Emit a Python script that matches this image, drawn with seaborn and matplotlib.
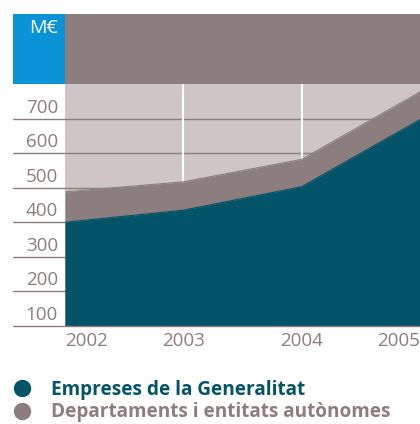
import matplotlib
matplotlib.use('Agg')
import matplotlib.pyplot as plt
import matplotlib.transforms as mtransforms
from matplotlib.lines import Line2D
from matplotlib.patches import Rectangle
import seaborn as sns
import pandas as pd
import numpy as np

# values (M€)
years = [2002, 2003, 2004, 2005]
empreses = [400, 435, 503, 697]
departaments = [88, 82, 79, 80]
y_ticks = [100, 200, 300, 400, 500, 600, 700]
series_names = ['Empreses de la Generalitat', 'Departaments i entitats autònomes']
unit = 'M€'

TEAL = '#045469'
MAUVE = '#8c7d7f'
LIGHT = '#cdc5c6'
BLUE = '#0a93d6'

sns.set_theme(style='white')
plt.rcParams['font.family'] = ['Open Sans', 'DejaVu Sans']

W, H = 420, 424
fig = plt.figure(figsize=(W / 100, H / 100), dpi=100)
ax = fig.add_axes([65 / W, (H - 326) / H, 355 / W, (326 - 84) / H])

df = pd.DataFrame({'year': years, 'empreses': empreses,
                   'total': np.add(empreses, departaments)})

ax.set_facecolor(LIGHT)
ax.set_xlim(years[0], years[-1])
ax.set_ylim(100, 800)

# grid lines, running out into the label column on the left
for v in y_ticks:
    ax.axhline(v, xmin=-52 / 355, xmax=1, color=MAUVE, lw=1, clip_on=False,
               zorder=1 if v > 100 else 5)
for yr in years[1:-1]:
    ax.axvline(yr, color='white', lw=1.5, zorder=1)

# stacked areas
ax.fill_between(df['year'], 100, df['total'], color=MAUVE, lw=0, zorder=2)
ax.fill_between(df['year'], 100, df['empreses'], color=TEAL, lw=0, zorder=3)
sns.lineplot(data=df, x='year', y='total', color=MAUVE, lw=0.8, ax=ax, zorder=2)
sns.lineplot(data=df, x='year', y='empreses', color=TEAL, lw=0.8, ax=ax, zorder=3)

for s in ax.spines.values():
    s.set_visible(False)
ax.set_xlabel('')
ax.set_ylabel('')
ax.set_yticks([])

# y labels sit just above their line
trans = mtransforms.blended_transform_factory(ax.transAxes, ax.transData) + \
    mtransforms.ScaledTranslation(0, 6 / 100, fig.dpi_scale_trans)
for v in y_ticks:
    ax.text(-7 / 355, v, str(v), transform=trans, ha='right', va='baseline',
            fontsize=13.5, color=MAUVE)

ax.set_xticks(years)
ax.set_xticklabels([str(y) for y in years])
ax.tick_params(axis='x', length=0, pad=4, labelsize=13.5, labelcolor=MAUVE)
labels = ax.get_xticklabels()
labels[0].set_ha('left')
labels[-1].set_ha('right')

# header band
fig.add_artist(Rectangle((13 / W, (H - 84) / H), 52 / W, 70 / H,
                         transform=fig.transFigure, color=BLUE, lw=0))
fig.add_artist(Rectangle((65 / W, (H - 84) / H), 355 / W, 70 / H,
                         transform=fig.transFigure, color=MAUVE, lw=0))
fig.text(58 / W, (H - 28) / H, unit, ha='right', va='center', color='white',
         fontsize=14)

# legend
handles = [Line2D([], [], marker='o', ls='', color=c, markersize=11.5)
           for c in [TEAL, MAUVE]]
leg = fig.legend(handles, series_names, loc='upper left',
                 bbox_to_anchor=(12.5 / W, (H - 380) / H), frameon=False,
                 borderpad=0, borderaxespad=0, handlelength=1,
                 handletextpad=1.0, labelspacing=0.12,
                 prop={'weight': 'bold', 'size': 13.7})
for t, c in zip(leg.get_texts(), [TEAL, MAUVE]):
    t.set_color(c)

fig.savefig('out.png', dpi=100)
